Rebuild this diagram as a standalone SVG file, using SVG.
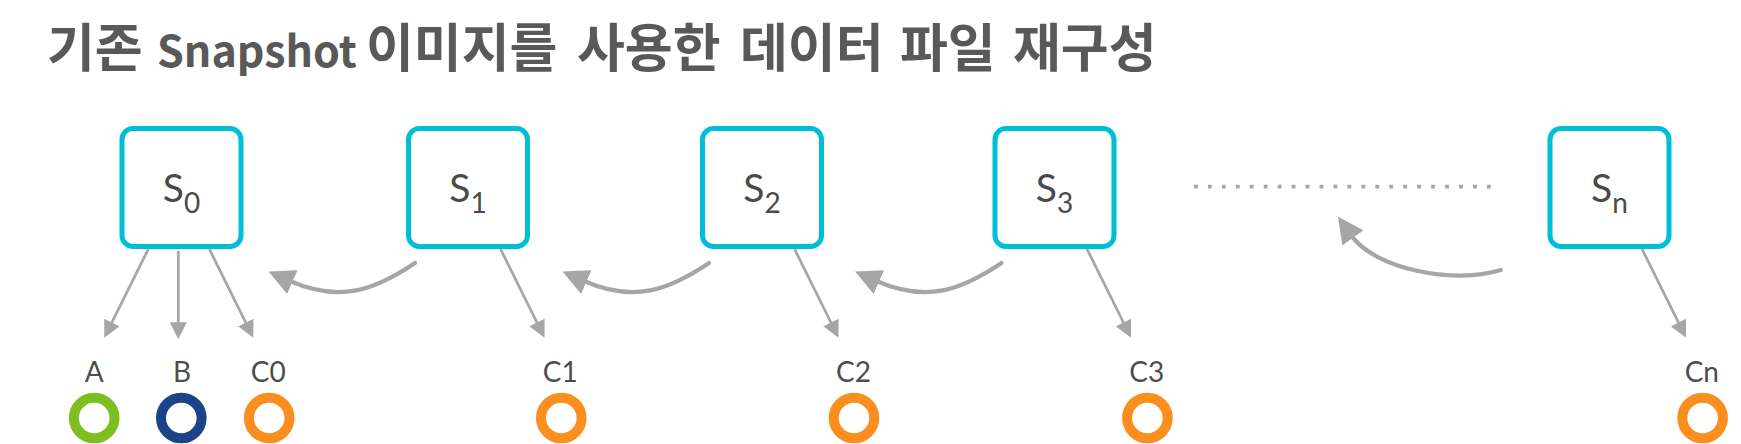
<svg xmlns="http://www.w3.org/2000/svg" width="1741" height="444" viewBox="0 0 1741 444">
<defs>
<style>
.title{font-family:"Noto Sans CJK KR","Noto Sans",sans-serif;font-weight:700;font-size:52px;fill:#595959}
.latin{font-size:43px}
.box{fill:#ffffff;stroke:#00BED6;stroke-width:5}
.stxt{font-family:Lato,"Liberation Sans",sans-serif;font-size:39px;fill:#4a4a4a;text-anchor:middle}
.sub{font-size:28px}
.lbl{font-family:Lato,"Liberation Sans",sans-serif;font-size:28px;fill:#4d4d4d;text-anchor:middle}
.ring{fill:none;stroke-width:10}
.thin{fill:none;stroke:#A6A6A6;stroke-width:2.75;marker-end:url(#arr)}
.curve{fill:none;stroke:#A6A6A6;stroke-width:4.2;stroke-linecap:round;marker-end:url(#arr)}
.dots{fill:none;stroke:#A6A6A6;stroke-width:3.8;stroke-dasharray:3.8 10.15}
</style>
<marker id="arr" viewBox="0 0 10 10" refX="1" refY="5" markerWidth="6.2" markerHeight="6.2" orient="auto" markerUnits="strokeWidth">
<path d="M0,0 L10,5 L0,10 Z" fill="#A6A6A6"/>
</marker>
</defs>
<rect width="1741" height="444" fill="#ffffff"/>
<text class="title" y="67"><tspan x="47">기존</tspan><tspan class="latin" x="157">Snapshot</tspan><tspan x="366">이미지를</tspan><tspan x="577">사용한</tspan><tspan x="740">데이터</tspan><tspan x="900">파일</tspan><tspan x="1013">재구성</tspan></text>

<g id="connectors">
<path class="thin" d="M148.3,249 L111.1,324"/>
<path class="thin" d="M178.3,251 L178.3,324"/>
<path class="thin" d="M209.3,249 L246.5,324"/>
<path class="thin" d="M500.5,249 L537.7,324"/>
<path class="thin" d="M794.5,249 L831.7,324"/>
<path class="thin" d="M1087,249 L1124.2,324"/>
<path class="thin" d="M1642,249 L1679.2,324"/>
<path class="curve" d="M415,263 C375,290 340,303 290,281"/>
<path class="curve" d="M709,263 C669,290 634,303 584,281"/>
<path class="curve" d="M1001.5,263 C961.5,290 926.5,303 876.5,281"/>
<path class="curve" d="M1500.7,270 C1453,285 1374.6,268.5 1351.5,235.8"/>
<line class="dots" x1="1194" y1="186.7" x2="1491" y2="186.7"/>
</g>

<g id="S0"><rect class="box" x="122" y="128.5" width="119" height="118" rx="11"/><text class="stxt" x="181.5" y="202">S<tspan class="sub" dy="11">0</tspan></text></g>
<g id="S1"><rect class="box" x="408.5" y="128.5" width="119" height="118" rx="11"/><text class="stxt" x="468" y="202">S<tspan class="sub" dy="11">1</tspan></text></g>
<g id="S2"><rect class="box" x="702.5" y="128.5" width="119" height="118" rx="11"/><text class="stxt" x="762" y="202">S<tspan class="sub" dy="11">2</tspan></text></g>
<g id="S3"><rect class="box" x="995" y="128.5" width="119" height="118" rx="11"/><text class="stxt" x="1054.5" y="202">S<tspan class="sub" dy="11">3</tspan></text></g>
<g id="Sn"><rect class="box" x="1550" y="128.5" width="119" height="118" rx="11"/><text class="stxt" x="1609.5" y="202">S<tspan class="sub" dy="11">n</tspan></text></g>

<g id="A"><text class="lbl" x="94.3" y="382">A</text><circle class="ring" cx="94.2" cy="418" r="20.3" stroke="#7DBE21"/></g>
<g id="B"><text class="lbl" x="182" y="382">B</text><circle class="ring" cx="181.3" cy="418" r="20.3" stroke="#1C4289"/></g>
<g id="C0"><text class="lbl" x="268.3" y="382">C0</text><circle class="ring" cx="269.2" cy="418" r="20.3" stroke="#FA8E1E"/></g>
<g id="C1"><text class="lbl" x="560.3" y="382">C1</text><circle class="ring" cx="561.3" cy="418" r="20.3" stroke="#FA8E1E"/></g>
<g id="C2"><text class="lbl" x="853.5" y="382">C2</text><circle class="ring" cx="854" cy="418" r="20.3" stroke="#FA8E1E"/></g>
<g id="C3"><text class="lbl" x="1146.8" y="382">C3</text><circle class="ring" cx="1147.4" cy="418" r="20.3" stroke="#FA8E1E"/></g>
<g id="Cn"><text class="lbl" x="1701.8" y="382">Cn</text><circle class="ring" cx="1702.6" cy="418" r="20.3" stroke="#FA8E1E"/></g>
</svg>
